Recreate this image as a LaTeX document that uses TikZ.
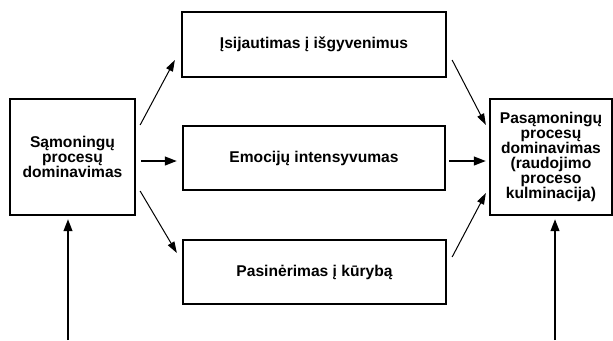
\documentclass[tikz,border=0pt]{standalone}
\usepackage{fontspec}
\setmainfont{Liberation Sans}
\usetikzlibrary{arrows.meta}

\begin{document}
\begin{tikzpicture}[x=0.75pt,y=-0.75pt]
\tikzset{box/.style = {shape=rectangle,draw,line width=1.7pt,inner sep=0pt,align=center,
    font=\bfseries\fontsize{11.7}{11.2}\selectfont},
  flow/.style = {-{Triangle[length=8.5pt,width=5.5pt]},line width=0.75pt},
  mainflow/.style = {-{Triangle[length=9pt,width=6.5pt]},line width=1.5pt}}
\useasboundingbox (0,0) rectangle (613,340);
% boxes
\node[box,minimum width=93.75pt,minimum height=87pt] (samon) at (72.5,157) {Sąmoningų\\procesų\\dominavimas};
\node[box,minimum width=91.5pt,minimum height=87pt] (pasam) at (551,157) {Pasąmoningų\\procesų\\dominavimas\\(raudojimo\\proceso\\kulminacija)};
\node[box,minimum width=198pt,minimum height=48.75pt] (isij) at (314,44.5) {Įsijautimas į išgyvenimus};
\node[box,minimum width=196.5pt,minimum height=48pt] (emoc) at (314,158) {Emocijų intensyvumas};
\node[box,minimum width=197.25pt,minimum height=48pt] (pasin) at (314.5,272) {Pasinėrimas į kūrybą};
\coordinate (lbase) at (68,340);
\coordinate (rbase) at (555,340);
% arrows
\draw[flow] ([shift={(4,-32)}]samon.east) -- ([shift={(-6,15.5)}]isij.west);
\draw[mainflow] ([shift={(5,4)}]samon.east) -- ([shift={(-5,3)}]emoc.west);
\draw[flow] ([shift={(4,34)}]samon.east) -- ([shift={(-5,-19)}]pasin.west);
\draw[flow] ([shift={(5,15.5)}]isij.east) -- ([shift={(-3,-32)}]pasam.west);
\draw[mainflow] ([shift={(3,3)}]emoc.east) -- ([shift={(-3,4)}]pasam.west);
\draw[flow] ([shift={(5,-15)}]pasin.east) -- ([shift={(-3,36)}]pasam.west);
\draw[mainflow] (lbase) -- ([shift={(-4.5,3)}]samon.south);
\draw[mainflow] (rbase) -- ([shift={(4,3)}]pasam.south);
\end{tikzpicture}
\end{document}
